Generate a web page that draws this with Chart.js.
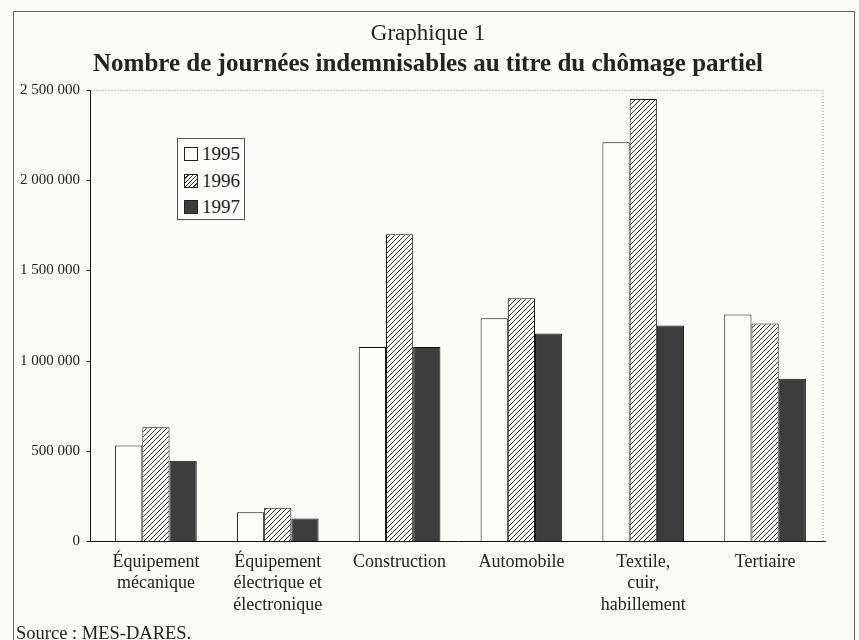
<!DOCTYPE html>
<html>
<head>
<meta charset="utf-8">
<script src="https://cdn.jsdelivr.net/npm/chart.js@4"></script>
<style>
  html, body { margin: 0; padding: 0; background: #fbfbf8; }
  #wrap { position: relative; width: 859px; height: 640px; overflow: hidden; }
  #frame { position: absolute; left: 13px; top: 11px; width: 840px; height: 700px; border: 1.5px solid #666; }
  #legend { position: absolute; left: 177px; top: 138px; width: 66px; height: 78px; border: 1px solid #555;
            background: #fdfdfb; font-family: "Liberation Serif", serif; font-size: 19px; color: #222; padding-top: 2px; box-sizing: content-box; }
  #legend div { height: 26.5px; line-height: 26.5px; padding-left: 6px; }
  #legend span.sw { display: inline-block; width: 12px; height: 12px; border: 1px solid #222; margin-right: 4px; vertical-align: -1px; }
  #source { position: absolute; left: 16px; top: 623px; font-family: "Liberation Serif", serif; font-size: 18.5px; color: #222; }
  canvas { position: absolute; left: 0; top: 0; }
</style>
</head>
<body>
<div id="wrap">
  <div id="frame"></div>
  <canvas id="chart" width="859" height="640"></canvas>
  <div id="legend"></div>
  <div id="source">Source : MES-DARES.</div>
</div>
<script>
// ---------------- DATA ----------------
const categories = [
  ["Équipement", "mécanique"],
  ["Équipement", "électrique et", "électronique"],
  ["Construction"],
  ["Automobile"],
  ["Textile,", "cuir,", "habillement"],
  ["Tertiaire"]
];
const years = ["1995", "1996", "1997"];
const v1995 = [530000, 160000, 1075000, 1235000, 2210000, 1255000];
const v1996 = [630000, 185000, 1700000, 1345000, 2450000, 1205000];
const v1997 = [445000, 125000, 1075000, 1150000, 1195000, 900000];
const yTicks = [0, 500000, 1000000, 1500000, 2000000, 2500000];

// ---------------- HATCH PATTERN ----------------
function makeHatch() {
  const s = 5;
  const c = document.createElement("canvas");
  c.width = s; c.height = s;
  const g = c.getContext("2d");
  g.fillStyle = "#fdfdfb";
  g.fillRect(0, 0, s, s);
  g.strokeStyle = "#333";
  g.lineWidth = 1;
  g.beginPath();
  g.moveTo(0, s); g.lineTo(s, 0);
  g.moveTo(-1, 1); g.lineTo(1, -1);
  g.moveTo(s - 1, s + 1); g.lineTo(s + 1, s - 1);
  g.stroke();
  return g.createPattern(c, "repeat");
}

const fills = ["#fdfdfb", makeHatch(), "#3d3d3d"];
const swatchCss = [
  "background:#fdfdfb",
  "background:repeating-linear-gradient(135deg,#fdfdfb 0 2px,#333 2px 3px)",
  "background:#3d3d3d"
];

const AXIS_X = 90.5; // y axis line sits a little left of the first category

// axis lines, y tick marks and dotted top/right border of the plot
const plotFrame = {
  id: "plotFrame",
  afterDraw(chart) {
    const a = chart.chartArea, ctx = chart.ctx, y = chart.scales.y;
    ctx.save();
    ctx.strokeStyle = "#111";
    ctx.lineWidth = 1;
    ctx.beginPath();
    ctx.moveTo(AXIS_X, a.top);
    ctx.lineTo(AXIS_X, a.bottom + 0.5);
    ctx.lineTo(a.right, a.bottom + 0.5);
    yTicks.forEach(v => {
      const py = Math.round(y.getPixelForValue(v)) + 0.5;
      ctx.moveTo(AXIS_X - 4, py);
      ctx.lineTo(AXIS_X, py);
    });
    ctx.stroke();
    ctx.strokeStyle = "#888";
    ctx.setLineDash([1, 2]);
    ctx.beginPath();
    ctx.moveTo(AXIS_X, a.top + 0.5);
    ctx.lineTo(a.right - 3, a.top + 0.5);
    ctx.lineTo(a.right - 3, a.bottom);
    ctx.stroke();
    ctx.restore();
  }
};

Chart.defaults.font.family = "'Liberation Serif', serif";
Chart.defaults.color = "#222";

const series = [v1995, v1996, v1997];
const chart = new Chart(document.getElementById("chart"), {
  type: "bar",
  data: {
    labels: categories,
    datasets: years.map((y, i) => ({
      label: y,
      data: series[i],
      backgroundColor: fills[i],
      borderColor: "#111",
      borderWidth: 1,
      categoryPercentage: 0.67,
      barPercentage: 1.0
    }))
  },
  options: {
    responsive: false,
    animation: false,
    layout: { padding: { left: 0, right: 3, top: 0, bottom: 0 } },
    plugins: {
      legend: { display: false },
      tooltip: { enabled: false },
      title: {
        display: true,
        text: "Graphique 1",
        font: { size: 23, weight: "normal" },
        padding: { top: 20, bottom: 2.4 }
      },
      subtitle: {
        display: true,
        text: "Nombre de journées indemnisables au titre du chômage partiel",
        font: { size: 25, weight: "bold" },
        padding: { top: 0, bottom: 10 }
      }
    },
    scales: {
      x: {
        grid: { display: false, drawTicks: false },
        border: { display: false },
        ticks: { font: { size: 18 }, lineHeight: 1.2, padding: 10, maxRotation: 0, autoSkip: false },
        afterFit(scale) { scale.height = 99; }
      },
      y: {
        min: 0,
        max: 2500000,
        afterBuildTicks(scale) { scale.ticks = yTicks.map(v => ({ value: v })); },
        grid: { display: false, drawTicks: false },
        border: { display: false },
        ticks: {
          font: { size: 15 },
          padding: 15,
          callback: v => String(v).replace(/\B(?=(\d{3})+(?!\d))/g, " ")
        },
        afterFit(scale) { scale.width = 95; }
      },
      // empty right margin so the titles centre like the original
      yRight: {
        position: "right",
        grid: { display: false, drawTicks: false },
        border: { display: false },
        ticks: { display: false },
        afterFit(scale) { scale.width = 30; }
      }
    }
  },
  plugins: [plotFrame]
});

// legend
const legend = document.getElementById("legend");
chart.data.datasets.forEach((ds, i) => {
  const row = document.createElement("div");
  row.innerHTML = '<span class="sw" style="' + swatchCss[i] + '"></span>' + ds.label;
  legend.appendChild(row);
});
</script>
</body>
</html>
